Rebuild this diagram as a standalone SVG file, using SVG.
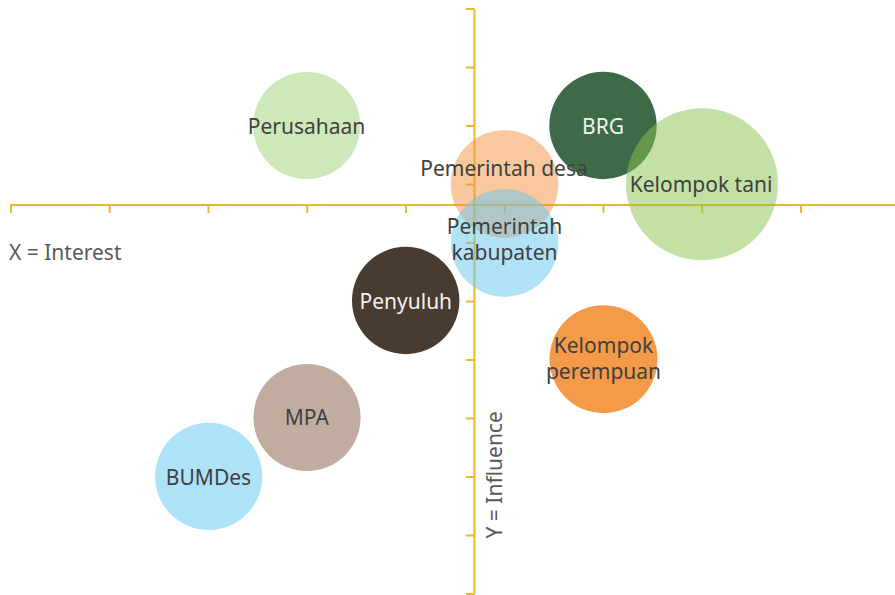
<svg xmlns="http://www.w3.org/2000/svg" width="895" height="595" viewBox="0 0 895 595">
<style>
.ax{stroke:#e8b92c;stroke-width:2;fill:none}
.lbl{font-family:"Noto Sans","Open Sans",sans-serif;font-size:21px;fill:#404040;text-anchor:middle}
.wl{fill:#f2f2f2}
.axl{font-family:"Noto Sans","Open Sans",sans-serif;font-size:21px;fill:#595959}
</style>
<rect width="895" height="595" fill="#ffffff"/>
<g id="axes">
<path class="ax" d="M10,205 H895 M11,205 V213 M109.75,205 V213 M208.5,205 V213 M307.25,205 V213 M406,205 V213 M504.75,205 V213 M603.5,205 V213 M702.25,205 V213 M801,205 V213"/>
<path class="ax" d="M474.5,9 V594 M466,9 H474.5 M466,67.5 H474.5 M466,126 H474.5 M466,184.5 H474.5 M466,243 H474.5 M466,301.5 H474.5 M466,360 H474.5 M466,418.5 H474.5 M466,477 H474.5 M466,535.5 H474.5 M466,594 H474.5"/>
<text class="axl" x="9" y="260">X = Interest</text>
<text class="axl" transform="translate(501.5,538.5) rotate(-90)">Y = Influence</text>
</g>
<g id="node-perusahaan"><circle cx="306.7" cy="125.5" r="53.6" fill="#cfe8b9"/></g>
<g id="node-pemerintah-desa"><circle cx="504.6" cy="184" r="53.8" fill="#f49240" fill-opacity="0.5"/></g>
<g id="node-pemerintah-kabupaten"><circle cx="504.6" cy="243" r="53.8" fill="#65c5ed" fill-opacity="0.5"/></g>
<g id="node-brg"><circle cx="603" cy="125.5" r="53.7" fill="#3e6a47"/></g>
<g id="node-kelompok-tani"><circle cx="702" cy="184.2" r="76" fill="#87c34b" fill-opacity="0.5"/></g>
<g id="node-penyuluh"><circle cx="405.7" cy="300.5" r="53.7" fill="#4a3b30"/></g>
<g id="node-kelompok-perempuan"><circle cx="603.5" cy="359.2" r="54" fill="#f59a48"/></g>
<g id="node-mpa"><circle cx="307" cy="417.5" r="53.6" fill="#c1ada0"/></g>
<g id="node-bumdes"><circle cx="208.7" cy="476.4" r="53.6" fill="#ade2f8"/></g>
<g id="labels">
<text class="lbl" x="306.5" y="134">Perusahaan</text>
<text class="lbl wl" x="603" y="133.5">BRG</text>
<text class="lbl" x="504" y="176">Pemerintah desa</text>
<text class="lbl" x="701" y="192">Kelompok tani</text>
<text class="lbl" x="504.5" y="233.5">Pemerintah</text>
<text class="lbl" x="504.5" y="260">kabupaten</text>
<text class="lbl wl" x="405.8" y="309">Penyuluh</text>
<text class="lbl" x="603.5" y="353">Kelompok</text>
<text class="lbl" x="603.5" y="378.5">perempuan</text>
<text class="lbl" x="306.8" y="425">MPA</text>
<text class="lbl" x="208.5" y="484.5">BUMDes</text>
</g>
</svg>
